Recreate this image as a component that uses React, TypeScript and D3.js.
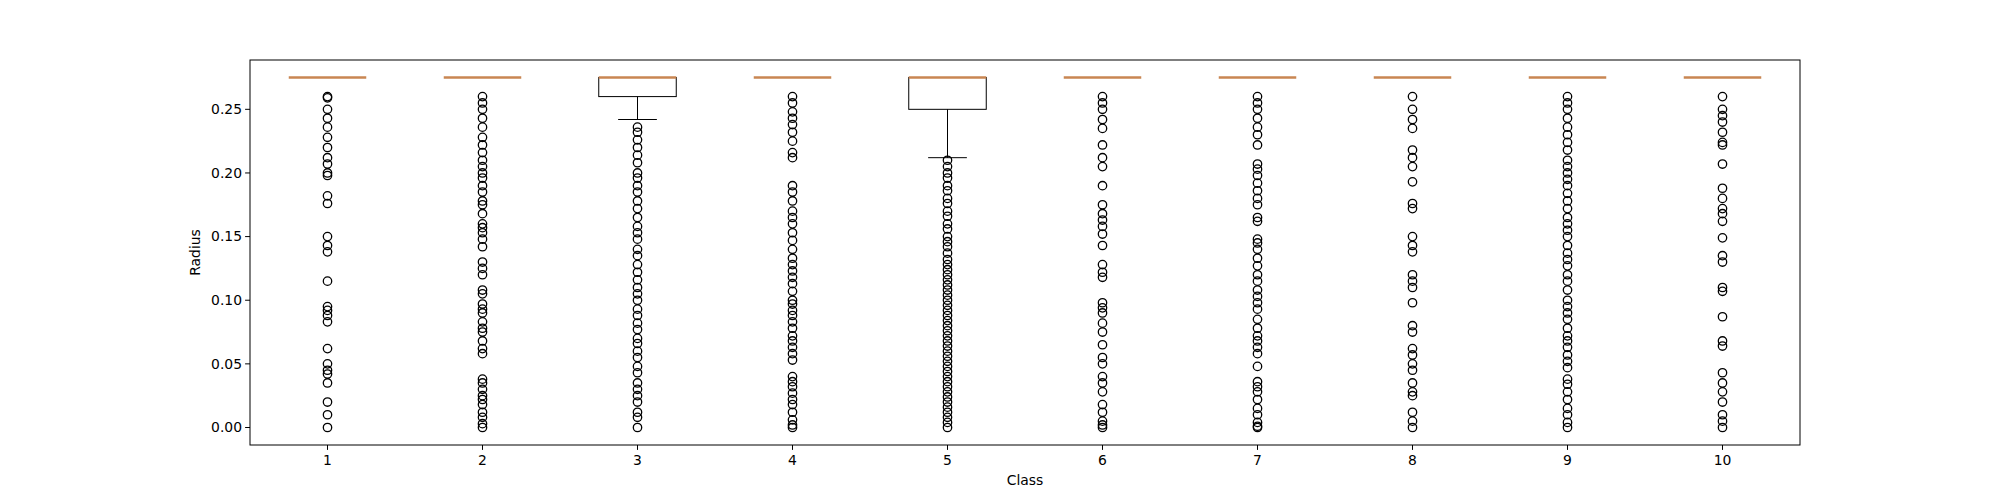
import React from "react";
import * as d3 from "d3";

const classes = ["1","2","3","4","5","6","7","8","9","10"];
const medians = [0.275,0.275,0.275,0.275,0.275,0.275,0.275,0.275,0.275,0.275];
const q1s = [0.275,0.275,0.26,0.275,0.25,0.275,0.275,0.275,0.275,0.275];
const q3s = [0.275,0.275,0.275,0.275,0.275,0.275,0.275,0.275,0.275,0.275];
const lowWhiskers = [0.275,0.275,0.242,0.275,0.212,0.275,0.275,0.275,0.275,0.275];
const fliers1 = [0.26,0.259,0.25,0.243,0.236,0.228,0.22,0.212,0.207,0.2,0.198,0.182,0.176,0.15,0.143,0.138,0.115,0.095,0.092,0.088,0.083,0.062,0.05,0.045,0.042,0.035,0.02,0.01,0.0];
const fliers2 = [0.26,0.255,0.25,0.243,0.236,0.228,0.222,0.216,0.21,0.205,0.2,0.196,0.19,0.185,0.178,0.175,0.168,0.16,0.157,0.153,0.148,0.142,0.13,0.125,0.12,0.108,0.105,0.097,0.093,0.09,0.083,0.078,0.075,0.068,0.062,0.058,0.038,0.035,0.03,0.025,0.022,0.018,0.012,0.008,0.003,0.0];
const fliers3 = [0.236,0.232,0.226,0.22,0.214,0.208,0.2,0.196,0.19,0.185,0.178,0.172,0.165,0.158,0.153,0.148,0.14,0.135,0.128,0.122,0.116,0.11,0.105,0.1,0.093,0.088,0.082,0.077,0.07,0.066,0.06,0.055,0.048,0.043,0.035,0.03,0.025,0.02,0.012,0.008,0.0];
const fliers4 = [0.26,0.255,0.248,0.243,0.238,0.232,0.225,0.216,0.212,0.19,0.185,0.178,0.17,0.165,0.16,0.153,0.147,0.14,0.133,0.128,0.123,0.118,0.113,0.107,0.1,0.097,0.092,0.088,0.083,0.078,0.072,0.068,0.063,0.058,0.053,0.04,0.036,0.032,0.027,0.022,0.018,0.012,0.006,0.002,0.0];
const fliers5 = [0.21,0.205,0.2,0.196,0.19,0.186,0.18,0.176,0.17,0.166,0.16,0.156,0.15,0.146,0.142,0.137,0.132,0.128,0.124,0.12,0.116,0.112,0.108,0.104,0.1,0.096,0.092,0.088,0.084,0.08,0.076,0.072,0.068,0.064,0.06,0.056,0.052,0.048,0.044,0.04,0.036,0.032,0.028,0.024,0.02,0.016,0.012,0.008,0.004,0.0];
const fliers6 = [0.26,0.255,0.25,0.242,0.235,0.222,0.212,0.205,0.19,0.175,0.168,0.163,0.158,0.152,0.143,0.128,0.122,0.118,0.098,0.094,0.09,0.082,0.075,0.065,0.055,0.05,0.04,0.035,0.028,0.018,0.012,0.005,0.002,0.0];
const fliers7 = [0.26,0.255,0.25,0.243,0.236,0.23,0.222,0.207,0.203,0.198,0.192,0.186,0.18,0.175,0.165,0.162,0.148,0.145,0.14,0.133,0.127,0.12,0.115,0.108,0.103,0.098,0.093,0.085,0.078,0.072,0.068,0.063,0.058,0.048,0.036,0.032,0.028,0.022,0.015,0.01,0.004,0.001,0.0];
const fliers8 = [0.26,0.25,0.242,0.235,0.218,0.212,0.205,0.193,0.176,0.172,0.15,0.143,0.138,0.12,0.115,0.11,0.098,0.08,0.075,0.062,0.057,0.05,0.045,0.035,0.028,0.025,0.012,0.005,0.0];
const fliers9 = [0.26,0.255,0.25,0.243,0.236,0.23,0.224,0.218,0.21,0.205,0.2,0.195,0.19,0.184,0.178,0.172,0.165,0.16,0.155,0.15,0.143,0.137,0.132,0.127,0.12,0.115,0.108,0.1,0.095,0.09,0.085,0.078,0.072,0.068,0.063,0.057,0.052,0.047,0.038,0.034,0.028,0.022,0.015,0.01,0.004,0.0];
const fliers10 = [0.26,0.25,0.245,0.24,0.232,0.224,0.222,0.207,0.188,0.18,0.172,0.168,0.162,0.149,0.135,0.13,0.11,0.107,0.087,0.068,0.064,0.043,0.035,0.028,0.02,0.01,0.005,0.0];
const fliers = [fliers1,fliers2,fliers3,fliers4,fliers5,fliers6,fliers7,fliers8,fliers9,fliers10];
const yTicks = [0,0.05,0.1,0.15,0.2,0.25];

const W = 2000, H = 500, L = 250, R = 1800, T = 60, B = 445;

export default function App() {
  const x = d3.scaleLinear().domain([0.5, 10.5]).range([L, R]);
  const y = d3.scaleLinear().domain([-0.01375, 0.28875]).range([B, T]);
  const hw = (x(1.25) - x(1));
  const font = "DejaVu Sans, sans-serif";
  return (
    <svg width={W} height={H} style={{ position: "absolute", left: 0, top: 0, background: "#fff" }}>
      <rect x={0} y={0} width={W} height={H} fill="#fff" />
      {classes.map((c, i) => {
        const cx = x(i + 1);
        return (
          <g key={c}>
            <line x1={cx} x2={cx} y1={y(q1s[i])} y2={y(lowWhiskers[i])} stroke="#000" />
            <line x1={cx - hw / 2} x2={cx + hw / 2} y1={y(lowWhiskers[i])} y2={y(lowWhiskers[i])} stroke="#000" />
            <rect x={cx - hw} width={hw * 2} y={y(q3s[i])} height={Math.max(0, y(q1s[i]) - y(q3s[i]))} fill="none" stroke="#000" />
            <line x1={cx - hw} x2={cx + hw} y1={y(medians[i])} y2={y(medians[i])} stroke="#c98652" strokeWidth={2.5} />
            {fliers[i].map((v, j) => (
              <circle key={j} cx={cx} cy={y(v)} r={4.2} fill="none" stroke="#000" strokeWidth={1.3} />
            ))}
          </g>
        );
      })}
      <rect x={L} y={T} width={R - L} height={B - T} fill="none" stroke="#000" />
      {yTicks.map((t) => (
        <g key={t}>
          <line x1={L - 4.9} x2={L} y1={y(t)} y2={y(t)} stroke="#000" />
          <text x={L - 8} y={y(t)} dy="0.35em" textAnchor="end" fontFamily={font} fontSize={13.9}>{t.toFixed(2)}</text>
        </g>
      ))}
      {classes.map((c, i) => (
        <g key={c}>
          <line x1={x(i + 1)} x2={x(i + 1)} y1={B} y2={B + 4.9} stroke="#000" />
          <text x={x(i + 1)} y={B + 20} textAnchor="middle" fontFamily={font} fontSize={13.9}>{c}</text>
        </g>
      ))}
      <text x={(L + R) / 2} y={B + 40} textAnchor="middle" fontFamily={font} fontSize={13.9}>Class</text>
      <text transform={`translate(${L - 50},${(T + B) / 2}) rotate(-90)`} textAnchor="middle" fontFamily={font} fontSize={13.9}>Radius</text>
    </svg>
  );
}
